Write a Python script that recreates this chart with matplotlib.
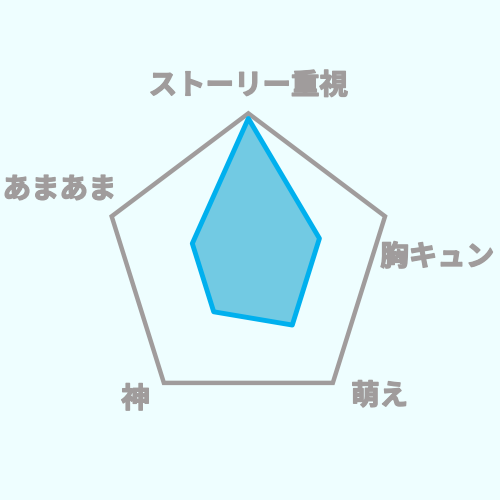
import numpy as np
import matplotlib.pyplot as plt
import matplotlib.patheffects as pe

plt.rcParams['font.family'] = ['Noto Sans CJK JP', 'DejaVu Sans']

# axes of the radar, clockwise from the top
labels = ['ストーリー重視', '胸キュン', '萌え', '神', 'あまあま']
values = [4.83, 2.6, 2.6, 2.05, 2.05]
vmax = 5.0

bg = '#EEFEFF'
grid_color = '#A09C9C'
line_color = '#00B0EE'
fill_color = '#3DB4D8'
text_color = '#A09C9C'

n = len(labels)
theta = np.arange(n) * 2 * np.pi / n


def to_xy(r):
    r = np.asarray(r, dtype=float)
    return r * np.sin(theta), r * np.cos(theta)


fig = plt.figure(figsize=(5, 5), dpi=100, facecolor=bg)
ax = fig.add_axes([0, 0, 1, 1])
ax.set_facecolor(bg)
ax.set_xlim(-1.728, 1.751)
ax.set_ylim(-1.595, 1.761)
ax.axis('off')

# outer pentagon
gx, gy = to_xy(np.ones(n))
ax.fill(gx, gy, facecolor='none', edgecolor=grid_color, lw=3.2, joinstyle='miter')

# data polygon
dx, dy = to_xy(np.array(values) / vmax)
ax.fill(dx, dy, facecolor=fill_color, alpha=0.7, edgecolor='none')
ax.fill(dx, dy, facecolor='none', edgecolor=line_color, lw=3.5, joinstyle='round')

# labels, with a thin stroke to get closer to the heavy rounded font
label_pos = [(0.0, 1.183, 'center'),
             (0.918, 0.032, 'left'),
             (0.715, -0.901, 'left'),
             (-0.785, -0.921, 'center'),
             (-1.71, 0.485, 'left')]
for lab, (x, y, ha) in zip(labels, label_pos):
    ax.text(x, y, lab, ha=ha, va='center', fontsize=20.5, fontweight='bold',
            color=text_color,
            path_effects=[pe.withStroke(linewidth=1.0, foreground=text_color,
                                        capstyle='round', joinstyle='round')])

fig.savefig('out.png', dpi=100, facecolor=bg)
